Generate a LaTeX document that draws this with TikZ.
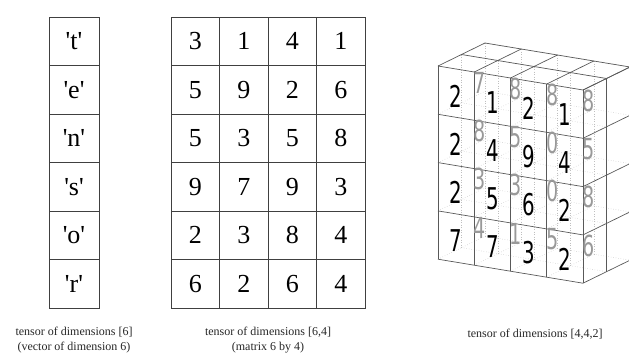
\documentclass[tikz,border=0pt]{standalone}
\usepackage{fontspec}
\setmainfont{Liberation Serif}
\newfontfamily\cubefont{DejaVu Sans}
\usetikzlibrary{calc}

\begin{document}
\begin{tikzpicture}[x=1pt,y=-1pt,
    grid/.style={black!75,line width=0.7pt},
    cell/.style={font=\fontsize{26}{30}\selectfont},
    caption/.style={font=\fontsize{12}{15}\selectfont,align=center,text=black!85},
    edge/.style={black!65,line width=0.7pt},
    hidden/.style={black!25,dotted,line width=0.5pt},
    front/.style={font=\cubefont\fontsize{30}{32}\selectfont,xscale=0.66},
    back/.style={font=\cubefont\fontsize{29}{32}\selectfont,xscale=0.66,text=black!40}]
  \useasboundingbox (0,0) rectangle (629,359);
  \clip (0,0) rectangle (629,359);

  % vector [6]
  \draw[grid] (49,17) rectangle (99,308);
  \foreach \r in {1,...,5}
    \draw[grid] (49,17+48.5*\r) -- (99,17+48.5*\r);
  \foreach \c [count=\r from 0] in {t,e,n,s,o,r}
    \node[cell] (v\r) at (74,41.25+48.5*\r)
      {\textquotesingle\c\textquotesingle};

  % matrix [6,4]
  \draw[grid] (171,17) rectangle (365,308);
  \foreach \r in {1,...,5}
    \draw[grid] (171,17+48.5*\r) -- (365,17+48.5*\r);
  \foreach \c in {1,2,3}
    \draw[grid] (171+48.5*\c,17) -- (171+48.5*\c,308);
  \foreach \a/\b/\e/\d [count=\r from 0] in
      {3/1/4/1,5/9/2/6,5/3/5/8,9/7/9/3,2/3/8/4,6/2/6/4}
    \foreach \v [count=\c from 0] in {\a,\b,\e,\d}
      \node[cell] (m-\r-\c) at (195.25+48.5*\c,41.25+48.5*\r) {\v};

  % tensor [4,4,2]
  \begin{scope}[shift={(438,66)},x={(36.25pt,-6pt)},y={(0pt,-48.3pt)},
      z={(23.5pt,11.5pt)}]
    % hidden lattice
    \foreach \k in {1,2} {
      \foreach \i in {0,...,4}
        \draw[hidden] (\i,0,\k) -- (\i,4,\k);
      \foreach \j in {0,...,4}
        \draw[hidden] (0,\j,\k) -- (4,\j,\k);
    }
    \foreach \i in {0,...,3}
      \foreach \j in {1,...,4}
        \draw[hidden] (\i,\j,0) -- (\i,\j,2);

    % front, top and right faces
    \foreach \i in {0,...,4}
      \draw[edge] (\i,0,0) -- (\i,4,0);
    \foreach \j in {0,...,4}
      \draw[edge] (0,\j,0) -- (4,\j,0);
    \foreach \i in {0,...,4}
      \draw[edge] (\i,0,0) -- (\i,0,2);
    \foreach \k in {1,2}
      \draw[edge] (0,0,\k) -- (4,0,\k);
    \foreach \j in {0,...,4}
      \draw[edge] (4,\j,0) -- (4,\j,2);
    \foreach \k in {1,2}
      \draw[edge] (4,0,\k) -- (4,4,\k);

    % back layer
    \foreach \a/\b/\e/\d [count=\j from 0] in {7/8/8/8,8/5/0/5,3/3/0/8,4/1/5/6}
      \foreach \v [count=\i from 0] in {\a,\b,\e,\d}
        \node[back,yshift=-1pt] (b-\j-\i) at (\i+0.5,\j+0.5,1) {\v};
    % front layer
    \foreach \a/\b/\e/\d [count=\j from 0] in {2/1/2/1,2/4/9/4,2/5/6/2,7/7/3/2}
      \foreach \v [count=\i from 0] in {\a,\b,\e,\d}
        \node[front,yshift=-3pt] (f-\j-\i) at (\i+0.5,\j+0.5,0) {\v};
  \end{scope}

  \node[caption] (cap1) at (74,340.5)
    {tensor of dimensions [6]\\(vector of dimension 6)};
  \node[caption] (cap2) at (268,340.5)
    {tensor of dimensions [6,4]\\(matrix 6 by 4)};
  \node[caption] (cap3) at (535,334) {tensor of dimensions [4,4,2]};
\end{tikzpicture}
\end{document}
